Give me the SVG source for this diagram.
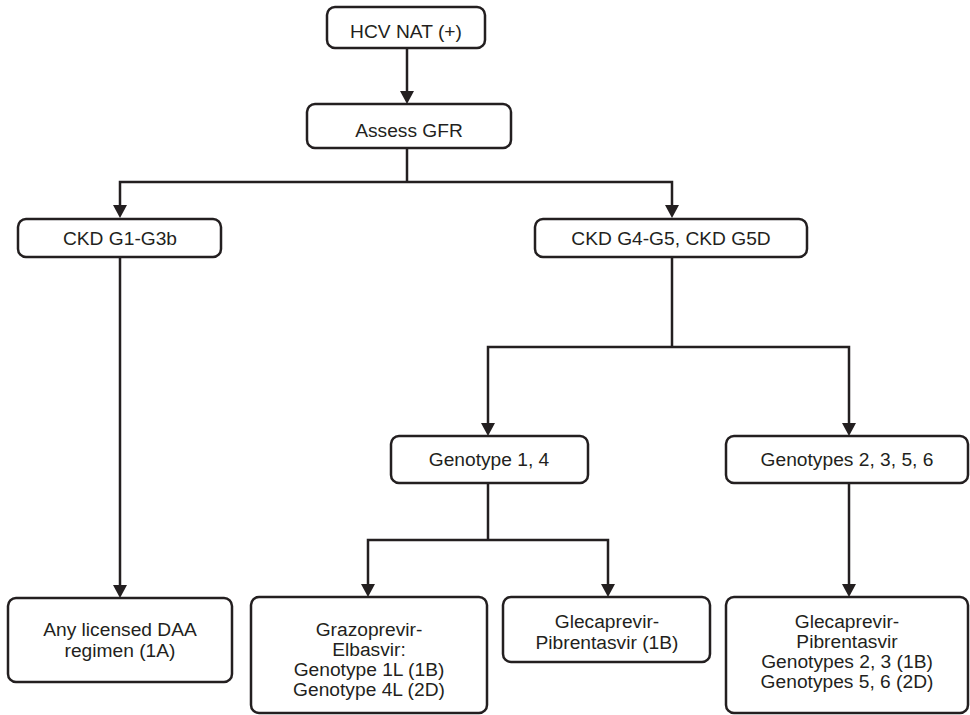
<svg xmlns="http://www.w3.org/2000/svg" width="970" height="715" viewBox="0 0 970 715">
  <defs>
    <style>
      .box { fill: #ffffff; stroke: #231f20; stroke-width: 2.5; }
      .lbl { font-family: "Liberation Sans", Arial, sans-serif; font-size: 19.2px; fill: #231f20; text-anchor: middle; }
      .wire { fill: none; stroke: #231f20; stroke-width: 2.5; }
      .head { fill: #231f20; }
    </style>
  </defs>
  <rect width="970" height="715" fill="#ffffff"/>

  <!-- connectors: elbow lines with solid triangular heads -->
  <g id="connectors">
    <!-- HCV NAT to Assess GFR -->
    <line class="wire" x1="407" y1="48" x2="407" y2="92"/>
    <path class="head" d="M400,91 L414,91 L407,104 Z"/>
    <!-- Assess GFR split -->
    <polyline class="wire" points="407,148 407,182"/>
    <polyline class="wire" points="120,206 120,182 672,182 672,206"/>
    <path class="head" d="M113,205 L127,205 L120,218 Z"/>
    <path class="head" d="M665,205 L679,205 L672,218 Z"/>
    <!-- CKD G1-G3b to any DAA -->
    <line class="wire" x1="120" y1="257" x2="120" y2="586"/>
    <path class="head" d="M113,585 L127,585 L120,598 Z"/>
    <!-- CKD G4-G5 split -->
    <polyline class="wire" points="672,257 672,347"/>
    <polyline class="wire" points="488,424 488,347 849,347 849,424"/>
    <path class="head" d="M481,423 L495,423 L488,436 Z"/>
    <path class="head" d="M842,423 L856,423 L849,436 Z"/>
    <!-- Genotype 1, 4 split -->
    <polyline class="wire" points="488,483 488,540"/>
    <polyline class="wire" points="368,585 368,540 608,540 608,585"/>
    <path class="head" d="M361,584 L375,584 L368,597 Z"/>
    <path class="head" d="M601,584 L615,584 L608,597 Z"/>
    <!-- Genotypes 2, 3, 5, 6 down -->
    <line class="wire" x1="849" y1="483" x2="849" y2="585"/>
    <path class="head" d="M842,584 L856,584 L849,597 Z"/>
  </g>

  <g id="hcv-nat">
    <rect class="box" x="327" y="7" width="158" height="41" rx="8"/>
    <text class="lbl" x="406" y="38">HCV NAT (+)</text>
  </g>

  <g id="assess-gfr">
    <rect class="box" x="307" y="104" width="204" height="44" rx="8"/>
    <text class="lbl" x="409" y="137">Assess GFR</text>
  </g>

  <g id="ckd-g1-g3b">
    <rect class="box" x="18" y="219" width="203" height="38" rx="8"/>
    <text class="lbl" x="120" y="245">CKD G1-G3b</text>
  </g>

  <g id="ckd-g4-g5">
    <rect class="box" x="535" y="219" width="272" height="38" rx="8"/>
    <text class="lbl" x="671" y="245">CKD G4-G5, CKD G5D</text>
  </g>

  <g id="genotype-1-4">
    <rect class="box" x="391" y="436" width="197" height="47" rx="8"/>
    <text class="lbl" x="489" y="466">Genotype 1, 4</text>
  </g>

  <g id="genotypes-2-3-5-6">
    <rect class="box" x="726" y="436" width="242" height="47" rx="8"/>
    <text class="lbl" x="847" y="466">Genotypes 2, 3, 5, 6</text>
  </g>

  <g id="any-daa">
    <rect class="box" x="8" y="598" width="224" height="84" rx="8"/>
    <text class="lbl" x="120" y="636">Any licensed DAA</text>
    <text class="lbl" x="120" y="657">regimen (1A)</text>
  </g>

  <g id="grazoprevir-elbasvir">
    <rect class="box" x="251" y="597" width="236" height="116" rx="8"/>
    <text class="lbl" x="369" y="636">Grazoprevir-</text>
    <text class="lbl" x="369" y="656">Elbasvir:</text>
    <text class="lbl" x="369" y="676">Genotype 1L (1B)</text>
    <text class="lbl" x="369" y="696">Genotype 4L (2D)</text>
  </g>

  <g id="glecaprevir-1b">
    <rect class="box" x="503" y="597" width="207" height="65" rx="8"/>
    <text class="lbl" x="607" y="628">Glecaprevir-</text>
    <text class="lbl" x="607" y="649">Pibrentasvir (1B)</text>
  </g>

  <g id="glecaprevir-genotypes">
    <rect class="box" x="726" y="597" width="242" height="116" rx="8"/>
    <text class="lbl" x="847" y="628">Glecaprevir-</text>
    <text class="lbl" x="847" y="648">Pibrentasvir</text>
    <text class="lbl" x="847" y="668">Genotypes 2, 3 (1B)</text>
    <text class="lbl" x="847" y="688">Genotypes 5, 6 (2D)</text>
  </g>
</svg>
